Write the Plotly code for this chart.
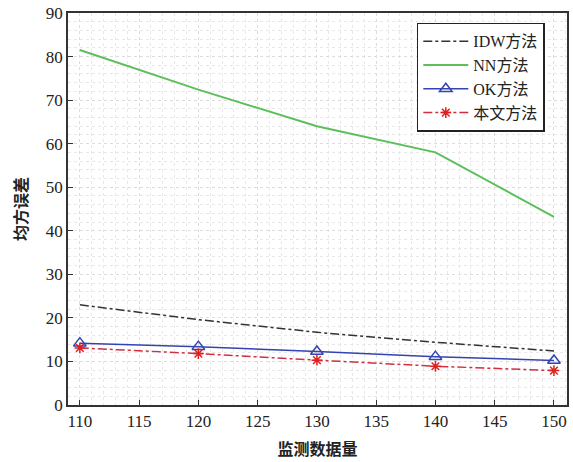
import plotly.graph_objects as go

x_vals = [110, 120, 130, 140, 150]
idw = [23.0, 19.6, 16.7, 14.4, 12.4]
nn = [81.5, 72.4, 64.0, 58.0, 43.2]
ok = [14.2, 13.4, 12.3, 11.1, 10.2]
ours = [13.1, 11.8, 10.3, 8.9, 7.9]
names = ["IDW方法", "NN方法", "OK方法", "本文方法"]
x_ticks = [110, 115, 120, 125, 130, 135, 140, 145, 150]
y_ticks = [0, 10, 20, 30, 40, 50, 60, 70, 80, 90]

serif = "Liberation Serif, Noto Sans CJK SC"

fig = go.Figure()
fig.add_trace(go.Scatter(x=x_vals, y=idw, name=names[0], mode="lines",
                         line=dict(color="#333333", width=1.5, dash="dashdot")))
fig.add_trace(go.Scatter(x=x_vals, y=nn, name=names[1], mode="lines",
                         line=dict(color="#5cbf5c", width=2)))
fig.add_trace(go.Scatter(x=x_vals, y=ok, name=names[2], mode="lines+markers",
                         line=dict(color="#3344b0", width=1.5),
                         marker=dict(symbol="triangle-up-open", size=11,
                                     color="#3344b0", line=dict(width=1.5))))
fig.add_trace(go.Scatter(x=x_vals, y=ours, name=names[3], mode="lines+markers",
                         line=dict(color="#d03040", width=1.5, dash="dashdot"),
                         marker=dict(symbol="asterisk-open", size=9,
                                     color="#e02020", line=dict(width=1.5, color="#e02020"))))

tickfont = dict(family="Liberation Serif", size=17, color="#222222")
fig.update_layout(
    width=573, height=462,
    margin=dict(l=68, r=4, t=10, b=57),
    plot_bgcolor="white", paper_bgcolor="white",
    font=dict(family=serif, color="#222222"),
    legend=dict(x=0.699, y=0.975, xanchor="left", yanchor="top",
                bgcolor="white", bordercolor="#222222", borderwidth=1.5,
                font=dict(family=serif, size=16),
                tracegroupgap=0, itemwidth=45),
    showlegend=True,
)
fig.update_xaxes(range=[109, 151.1], tickmode="array", tickvals=x_ticks,
                 ticks="inside", ticklen=5, tickcolor="#333",
                 showline=True, linecolor="#333", linewidth=1.5, mirror=True,
                 showgrid=True, gridcolor="#dddddd", griddash="dot", gridwidth=1,
                 minor=dict(dtick=1, tick0=110, showgrid=True, gridcolor="#e8e8e8", griddash="dot"),
                 tickfont=tickfont, zeroline=False,
                 title=dict(text="<b>监测数据量</b>", font=dict(family="Noto Sans CJK SC", size=16), standoff=14))
fig.update_yaxes(range=[0, 90], tickmode="array", tickvals=y_ticks,
                 ticks="inside", ticklen=5, tickcolor="#333",
                 showline=True, linecolor="#333", linewidth=1.5, mirror=True,
                 showgrid=True, gridcolor="#dddddd", griddash="dot", gridwidth=1,
                 minor=dict(dtick=2, tick0=0, showgrid=True, gridcolor="#e8e8e8", griddash="dot"),
                 tickfont=tickfont, zeroline=False,
                 title=dict(text="<b>均方误差</b>", font=dict(family="Noto Sans CJK SC", size=16), standoff=14))

fig.write_html("out.html")
